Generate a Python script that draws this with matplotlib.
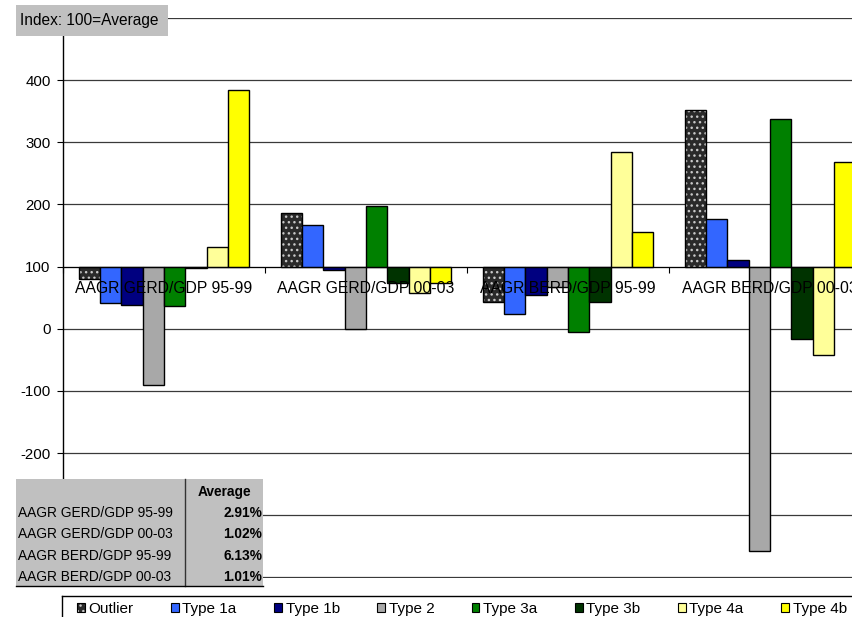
import matplotlib
matplotlib.use('Agg')
import matplotlib.pyplot as plt
import numpy as np
from matplotlib.patches import Rectangle, Patch
from matplotlib.lines import Line2D
from matplotlib.ticker import FuncFormatter
from matplotlib import font_manager

# Data (index, 100 = average)
categories = ['AAGR GERD/GDP 95-99', 'AAGR GERD/GDP 00-03',
              'AAGR BERD/GDP 95-99', 'AAGR BERD/GDP 00-03']
series_names = ['Outlier', 'Type 1a', 'Type 1b', 'Type 2',
                'Type 3a', 'Type 3b', 'Type 4a', 'Type 4b']
outlier = [80, 186, 43, 352]
type_1a = [42, 167, 23, 176]
type_1b = [39, 94, 54, 111]
type_2 = [-90, 0, 68, -357]
type_3a = [37, 197, -5, 337]
type_3b = [97, 73, 43, -17]
type_4a = [131, 57, 285, -43]
type_4b = [384, 74, 155, 269]
average_pct = [2.91, 1.02, 6.13, 1.01]

series_values = [outlier, type_1a, type_1b, type_2, type_3a, type_3b, type_4a, type_4b]
colors = ['#2a2a2a', '#3366ff', '#000080', '#a8a8a8',
          '#008000', '#003300', '#ffff99', '#ffff00']
baseline = 100

plt.rcParams['font.family'] = ['Liberation Sans', 'DejaVu Sans']
plt.rcParams['axes.unicode_minus'] = False
names = {f.name for f in font_manager.fontManager.ttflist}
if 'Liberation Sans Narrow' in names:
    narrow = dict(family='Liberation Sans Narrow', fontsize=11.3)
else:
    narrow = dict(family='Liberation Sans', fontsize=9.9)

W, H = 852, 617
fig = plt.figure(figsize=(W / 100, H / 100), dpi=100)


def fx(x):
    return x / W


def fy(y):
    return 1 - y / H


# plot area runs past the right edge of the picture, as in the original
ax = fig.add_axes([fx(63), fy(578), fx(871 - 63), (578 - 18) / H])

n = len(series_names)
width = 1 / (n + 1.5)
x = np.arange(len(categories)) + 0.5
for j, (name, vals, col) in enumerate(zip(series_names, series_values, colors)):
    pos = x + (j - (n - 1) / 2) * width
    heights = np.array(vals) - baseline
    if name == 'Outlier':
        ax.bar(pos, heights, width, bottom=baseline, color=col,
               edgecolor='#c8c8c8', hatch='...', linewidth=0, zorder=2)
        ax.bar(pos, heights, width, bottom=baseline, fill=False,
               edgecolor='black', linewidth=1, zorder=2)
    else:
        ax.bar(pos, heights, width, bottom=baseline, color=col,
               edgecolor='black', linewidth=1, zorder=2)

ax.set_xlim(0, len(categories))
ax.set_ylim(-401, 500)
ax.set_yticks(np.arange(-400, 501, 100))
ax.yaxis.set_major_formatter(FuncFormatter(
    lambda v, p: '' if v < -250 or v > 450 else f'{v:.0f}'))
ax.set_axisbelow(True)
ax.yaxis.grid(True, color='#3a3a3a', linewidth=0.9)
ax.xaxis.set_zorder(5)

ax.spines['top'].set_visible(False)
ax.spines['right'].set_visible(False)
ax.spines['bottom'].set_position(('data', baseline))
ax.spines['left'].set_linewidth(1)

ax.set_xticks(np.arange(len(categories) + 1))
ax.set_xticklabels([])
ax.set_xticks(x, minor=True)
ax.set_xticklabels(categories, minor=True)
ax.tick_params(axis='x', which='major', direction='out', length=4, width=0.8)
ax.tick_params(axis='x', which='minor', length=0, pad=10.5, labelsize=11.3)
ax.tick_params(axis='y', direction='out', length=4, width=0.8, pad=5, labelsize=10.8)

# "Index" box at top left
fig.add_artist(Rectangle((fx(16), fy(36)), fx(168 - 16), (36 - 5) / H,
                         transform=fig.transFigure, facecolor='#c0c0c0',
                         edgecolor='none', zorder=10))
fig.text(fx(20), fy(20.5), 'Index: 100=Average', fontsize=11.2,
         va='center', ha='left', zorder=11)

# average table at bottom left
fig.add_artist(Rectangle((fx(16), fy(586)), fx(263 - 16), (586 - 479) / H,
                         transform=fig.transFigure, facecolor='#c0c0c0',
                         edgecolor='none', zorder=10))
fig.add_artist(Line2D([fx(185), fx(185)], [fy(479), fy(586)], color='#333333',
                      linewidth=1, transform=fig.transFigure, zorder=11))
fig.add_artist(Line2D([fx(16), fx(263)], [fy(586), fy(586)], color='black',
                      linewidth=1, transform=fig.transFigure, zorder=11))
fig.text(fx(224), fy(492), 'Average', ha='center', va='center',
         fontweight='bold', zorder=12, **narrow)
row_y = [513, 534, 556, 577]
for lab, val, ry in zip(categories, average_pct, row_y):
    fig.text(fx(18), fy(ry), lab, ha='left', va='center', zorder=12, **narrow)
    fig.text(fx(262), fy(ry), f'{val:.2f}%', ha='right', va='center',
             fontweight='bold', zorder=12, **narrow)

# legend (frame drawn by hand, it is cut by the picture edge)
handles = []
for name, col in zip(series_names, colors):
    if name == 'Outlier':
        handles.append((Patch(facecolor=col, edgecolor='#c8c8c8', hatch='...', linewidth=0),
                        Patch(fill=False, edgecolor='black', linewidth=0.8)))
    else:
        handles.append(Patch(facecolor=col, edgecolor='black', linewidth=0.8))
fig.legend(handles, series_names, loc='center left',
           bbox_to_anchor=(fx(77), fy(609)), ncol=n, frameon=False,
           fontsize=11, handlelength=0.5, handleheight=0.5,
           handletextpad=0.25, columnspacing=2.45, borderpad=0,
           borderaxespad=0)
fig.add_artist(Line2D([fx(62), fx(900)], [fy(596), fy(596)], color='black',
                      linewidth=1, transform=fig.transFigure, zorder=11))
fig.add_artist(Line2D([fx(62), fx(62)], [fy(596), fy(640)], color='black',
                      linewidth=1, transform=fig.transFigure, zorder=11))

fig.savefig('out.png', dpi=100)
